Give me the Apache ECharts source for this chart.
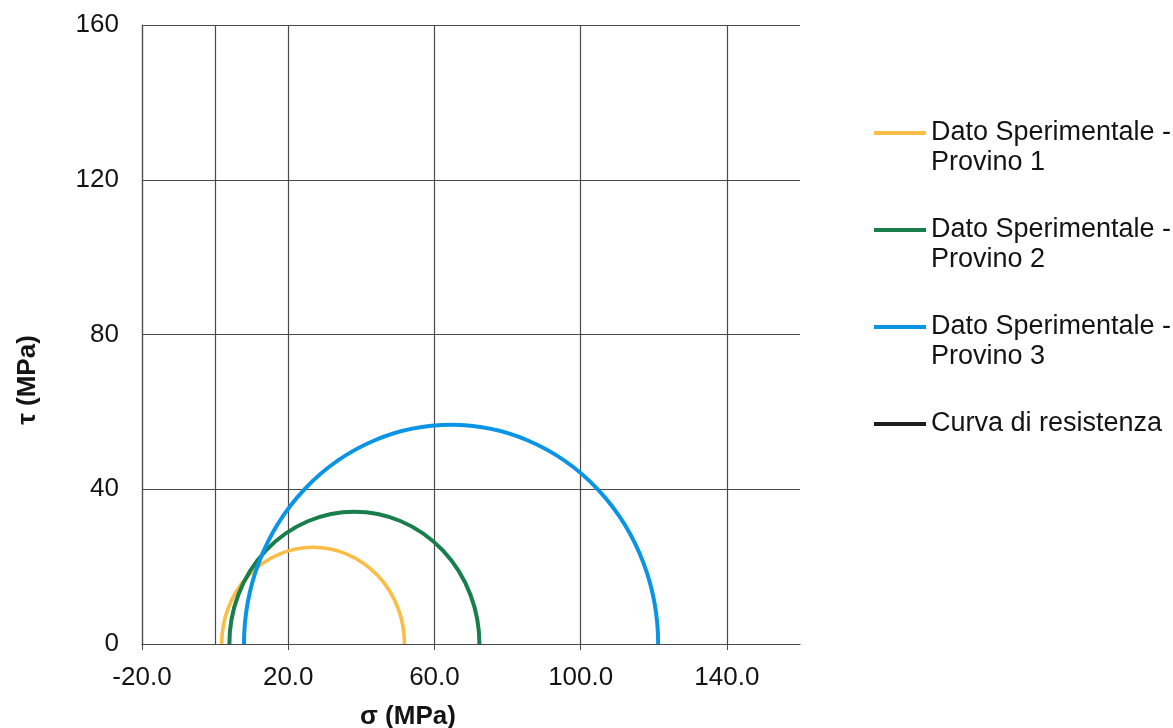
<!DOCTYPE html>
<html>
<head>
<meta charset="utf-8">
<script src="https://cdn.jsdelivr.net/npm/echarts@6/dist/echarts.min.js"></script>
<style>
  html, body { margin: 0; padding: 0; background: #fff; }
  #chart { width: 1173px; height: 728px; }
</style>
</head>
<body>
<div id="chart"></div>
<script>
// ---- data ----
const seriesNames = [
  'Dato Sperimentale -\nProvino 1',
  'Dato Sperimentale -\nProvino 2',
  'Dato Sperimentale -\nProvino 3',
  'Curva di resistenza'
];
const seriesColors = ['#fbbd45', '#177e4c', '#0a94e6', '#1e1e1e'];
// Mohr circles: minor / major principal stress (MPa)
const sigma3 = [1.8, 3.9, 7.9];
const sigma1 = [51.8, 72.3, 121.2];
const xTickValues = [-20, 20, 60, 100, 140];
const xExtraGrid = [0];
const xTitle = 'σ (MPa)';
const yTitle = 'τ (MPa)';

const FONT = '"Liberation Sans", Arial, sans-serif';
const GRID = '#4a4a4a';
const TEXT = '#141414';

function renderArc(params, api) {
  const s3 = api.value(0), s1 = api.value(1);
  const c = (s3 + s1) / 2, r = (s1 - s3) / 2;
  const pL = api.coord([s3, 0]);
  const pR = api.coord([s1, 0]);
  const pT = api.coord([c, r]);
  const rx = (pR[0] - pL[0]) / 2;
  const ry = pL[1] - pT[1];
  return {
    type: 'path',
    shape: {
      pathData: 'M' + pL[0] + ' ' + pL[1] + ' A ' + rx + ' ' + ry + ' 0 0 1 ' + pR[0] + ' ' + pR[1]
    },
    style: { fill: 'none', stroke: api.visual('color'), lineWidth: params.seriesIndex === 0 ? 3.6 : 4 }
  };
}

const series = [];
for (let i = 0; i < 3; i++) {
  const s = {
    name: seriesNames[i],
    type: 'custom',
    coordinateSystem: 'cartesian2d',
    renderItem: renderArc,
    encode: { x: [0, 1] },
    itemStyle: { color: seriesColors[i] },
    data: [[sigma3[i], sigma1[i]]],
    silent: true,
    z: 3 + i
  };
  if (i === 0) {
    s.markLine = {
      silent: true,
      symbol: 'none',
      label: { show: false },
      lineStyle: { color: GRID, width: 1.2, type: 'solid' },
      data: xExtraGrid.map(v => ({ xAxis: v })),
      z: 1
    };
  }
  series.push(s);
}
series.push({
  name: seriesNames[3],
  type: 'line',
  data: [],
  itemStyle: { color: seriesColors[3] },
  lineStyle: { color: seriesColors[3] }
});

const chart = echarts.init(document.getElementById('chart'), null, { renderer: 'canvas' });
chart.setOption({
  animation: false,
  backgroundColor: '#ffffff',
  grid: { left: 142, right: 373, top: 25, bottom: 84, containLabel: false },
  xAxis: {
    type: 'value',
    min: -20, max: 160, interval: 40,
    axisLine: { show: true, onZero: false, lineStyle: { color: GRID, width: 1.2 } },
    axisTick: { show: true, length: 6, customValues: xTickValues, lineStyle: { color: GRID } },
    axisLabel: {
      customValues: xTickValues,
      formatter: v => v.toFixed(1),
      fontSize: 26, color: TEXT, fontFamily: FONT, margin: 21
    },
    splitLine: { show: true, showMinLine: true, showMaxLine: true, lineStyle: { color: GRID, width: 1.2 } }
  },
  yAxis: {
    type: 'value',
    min: 0, max: 160, interval: 40,
    axisLine: { show: true, onZero: false, lineStyle: { color: GRID, width: 1.2 } },
    axisTick: { show: false },
    axisLabel: { fontSize: 26, color: TEXT, fontFamily: FONT, margin: 23 },
    splitLine: { show: true, lineStyle: { color: GRID, width: 1.2 } }
  },
  legend: {
    orient: 'vertical',
    left: 874, top: 88,
    padding: 0,
    itemGap: 7,
    itemWidth: 52, itemHeight: 4,
    icon: 'rect',
    selectedMode: false,
    data: seriesNames.map((n, i) => ({ name: n, itemStyle: { color: seriesColors[i] } })),
    formatter: n => ' \n' + n + (n.indexOf('\n') >= 0 ? '' : '\n '),
    textStyle: { fontSize: 27, lineHeight: 30, color: TEXT, fontFamily: FONT }
  },
  graphic: [
    {
      type: 'text', x: 408, y: 717,
      style: { text: xTitle, font: 'bold 26px ' + FONT, fill: TEXT, align: 'center', verticalAlign: 'middle' }
    },
    {
      type: 'text', x: 28, y: 380, rotation: Math.PI / 2,
      style: { text: yTitle, font: 'bold 26px ' + FONT, fill: TEXT, align: 'center', verticalAlign: 'middle' }
    }
  ],
  series: series
});
</script>
</body>
</html>
